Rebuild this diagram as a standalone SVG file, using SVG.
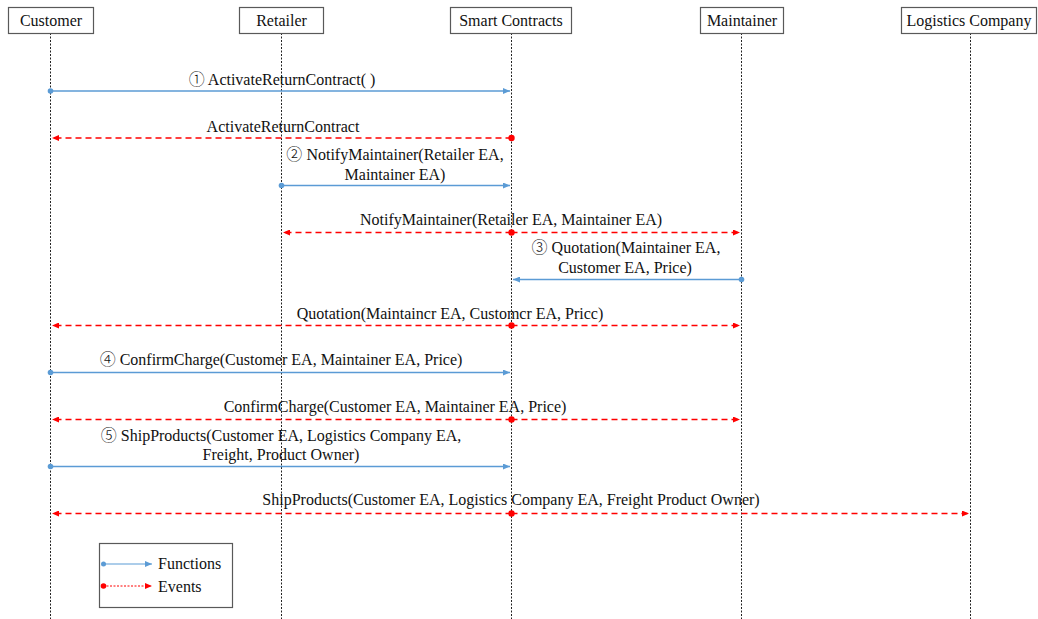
<svg xmlns="http://www.w3.org/2000/svg" width="1038" height="619" viewBox="0 0 1038 619">
  <style>
    text { font-family: "Liberation Serif", "Times New Roman", "DejaVu Serif", serif; font-size: 16px; fill: #111; }
    .num { font-family: "Noto Sans CJK SC", "DejaVu Sans", sans-serif; font-weight: 300; }
    .lbl { text-anchor: middle; }
    .box { fill: #fff; stroke: #595959; stroke-width: 1.2; }
    .life { stroke: #222; stroke-width: 1; stroke-dasharray: 2 1.5; fill: none; }
    .fn { stroke: #5B9BD5; stroke-width: 1.5; fill: none; }
    .ev { stroke: #FF0000; stroke-width: 1.5; stroke-dasharray: 6 4; fill: none; }
    .fdot { fill: #5B9BD5; }
    .edot { fill: #FF0000; }
  </style>
  <defs>
    <marker id="arrowFn" markerUnits="userSpaceOnUse" markerWidth="7" markerHeight="6" refX="7" refY="3" orient="auto">
      <path d="M0,0 L7,3 L0,6 z" fill="#5B9BD5"/>
    </marker>
    <marker id="arrowEv" markerUnits="userSpaceOnUse" markerWidth="7" markerHeight="6" refX="7" refY="3" orient="auto">
      <path d="M0,0 L7,3 L0,6 z" fill="#FF0000"/>
    </marker>
  </defs>

  <rect width="1038" height="619" fill="#fff"/>

  <!-- lifelines -->
  <g id="lifelines">
    <line class="life" x1="50.5" y1="33" x2="50.5" y2="619"/>
    <line class="life" x1="281.5" y1="33" x2="281.5" y2="619"/>
    <line class="life" x1="511.5" y1="33" x2="511.5" y2="619"/>
    <line class="life" x1="741.5" y1="33" x2="741.5" y2="619"/>
    <line class="life" x1="970.5" y1="33" x2="970.5" y2="619"/>
  </g>

  <!-- participants -->
  <g id="customer">
    <rect class="box" x="8.5" y="7.5" width="85" height="26"/>
    <text class="lbl" x="51" y="26">Customer</text>
  </g>
  <g id="retailer">
    <rect class="box" x="239.5" y="7.5" width="84" height="26"/>
    <text class="lbl" x="281.5" y="26">Retailer</text>
  </g>
  <g id="smart-contracts">
    <rect class="box" x="450.5" y="7.5" width="121" height="26"/>
    <text class="lbl" x="511" y="26">Smart Contracts</text>
  </g>
  <g id="maintainer">
    <rect class="box" x="700.5" y="7.5" width="83" height="26"/>
    <text class="lbl" x="742" y="26">Maintainer</text>
  </g>
  <g id="logistics-company">
    <rect class="box" x="901.5" y="7.5" width="135" height="26"/>
    <text class="lbl" x="969" y="26">Logistics Company</text>
  </g>

  <!-- messages -->
  <g id="connectors">
    <!-- 1 -->
    <line class="fn" x1="50.5" y1="91" x2="510" y2="91" marker-end="url(#arrowFn)"/>
    <circle class="fdot" cx="50.5" cy="91" r="2.8"/>
    <text class="lbl" x="282" y="85"><tspan class="num">①</tspan> ActivateReturnContract( )</text>

    <!-- 1 event -->
    <line class="ev" x1="511.5" y1="138" x2="52" y2="138" marker-end="url(#arrowEv)"/>
    <circle class="edot" cx="511.5" cy="138" r="3.2"/>
    <text class="lbl" x="283" y="132">ActivateReturnContract</text>

    <!-- 2 -->
    <line class="fn" x1="281.5" y1="185.5" x2="510" y2="185.5" marker-end="url(#arrowFn)"/>
    <circle class="fdot" cx="281.5" cy="185.5" r="2.8"/>
    <text class="lbl" x="395" y="160"><tspan class="num">②</tspan> NotifyMaintainer(Retailer EA,</text>
    <text class="lbl" x="395" y="180">Maintainer EA)</text>

    <!-- 2 event -->
    <line class="ev" x1="511.5" y1="232.5" x2="283" y2="232.5" marker-end="url(#arrowEv)"/>
    <line class="ev" x1="511.5" y1="232.5" x2="740" y2="232.5" marker-end="url(#arrowEv)"/>
    <circle class="edot" cx="511.5" cy="232.5" r="3.2"/>
    <text class="lbl" x="511" y="225">NotifyMaintainer(Retailer EA, Maintainer EA)</text>

    <!-- 3 -->
    <line class="fn" x1="741.5" y1="279.5" x2="513" y2="279.5" marker-end="url(#arrowFn)"/>
    <circle class="fdot" cx="741.5" cy="279.5" r="2.8"/>
    <text class="lbl" x="626" y="253"><tspan class="num">③</tspan> Quotation(Maintainer EA,</text>
    <text class="lbl" x="625" y="273">Customer EA, Price)</text>

    <!-- 3 event -->
    <line class="ev" x1="511.5" y1="325.5" x2="52" y2="325.5" marker-end="url(#arrowEv)"/>
    <line class="ev" x1="511.5" y1="325.5" x2="740" y2="325.5" marker-end="url(#arrowEv)"/>
    <circle class="edot" cx="511.5" cy="325.5" r="3.2"/>
    <text class="lbl" x="450" y="319">Quotation(Maintaincr EA, Customcr EA, Pricc)</text>

    <!-- 4 -->
    <line class="fn" x1="50.5" y1="372.5" x2="510" y2="372.5" marker-end="url(#arrowFn)"/>
    <circle class="fdot" cx="50.5" cy="372.5" r="2.8"/>
    <text class="lbl" x="281" y="365"><tspan class="num">④</tspan> ConfirmCharge(Customer EA, Maintainer EA, Price)</text>

    <!-- 4 event -->
    <line class="ev" x1="511.5" y1="419.5" x2="52" y2="419.5" marker-end="url(#arrowEv)"/>
    <line class="ev" x1="511.5" y1="419.5" x2="740" y2="419.5" marker-end="url(#arrowEv)"/>
    <circle class="edot" cx="511.5" cy="419.5" r="3.2"/>
    <text class="lbl" x="395" y="412">ConfirmCharge(Customer EA, Maintainer EA, Price)</text>

    <!-- 5 -->
    <line class="fn" x1="50.5" y1="466.5" x2="510" y2="466.5" marker-end="url(#arrowFn)"/>
    <circle class="fdot" cx="50.5" cy="466.5" r="2.8"/>
    <text class="lbl" x="281" y="441"><tspan class="num">⑤</tspan> ShipProducts(Customer EA, Logistics Company EA,</text>
    <text class="lbl" x="281" y="460">Freight, Product Owner)</text>

    <!-- 5 event -->
    <line class="ev" x1="511.5" y1="513.5" x2="52" y2="513.5" marker-end="url(#arrowEv)"/>
    <line class="ev" x1="511.5" y1="513.5" x2="969" y2="513.5" marker-end="url(#arrowEv)"/>
    <circle class="edot" cx="511.5" cy="513.5" r="3.2"/>
    <text class="lbl" x="511" y="505">ShipProducts(Customer EA, Logistics Company EA, Freight Product Owner)</text>
  </g>

  <!-- legend -->
  <g id="legend">
    <rect x="99.5" y="543.5" width="133" height="64" fill="#fff" stroke="#595959" stroke-width="1.2"/>
    <line x1="103" y1="564" x2="152" y2="564" stroke="#5B9BD5" stroke-width="1.2" marker-end="url(#arrowFn)"/>
    <circle class="fdot" cx="103.5" cy="564" r="2.5"/>
    <text x="158" y="569">Functions</text>
    <line x1="103" y1="586" x2="152" y2="586" stroke="#FF0000" stroke-width="1" stroke-dasharray="2 1.5" marker-end="url(#arrowEv)"/>
    <circle class="edot" cx="103.5" cy="586" r="2.8"/>
    <text x="158" y="592">Events</text>
  </g>
</svg>
